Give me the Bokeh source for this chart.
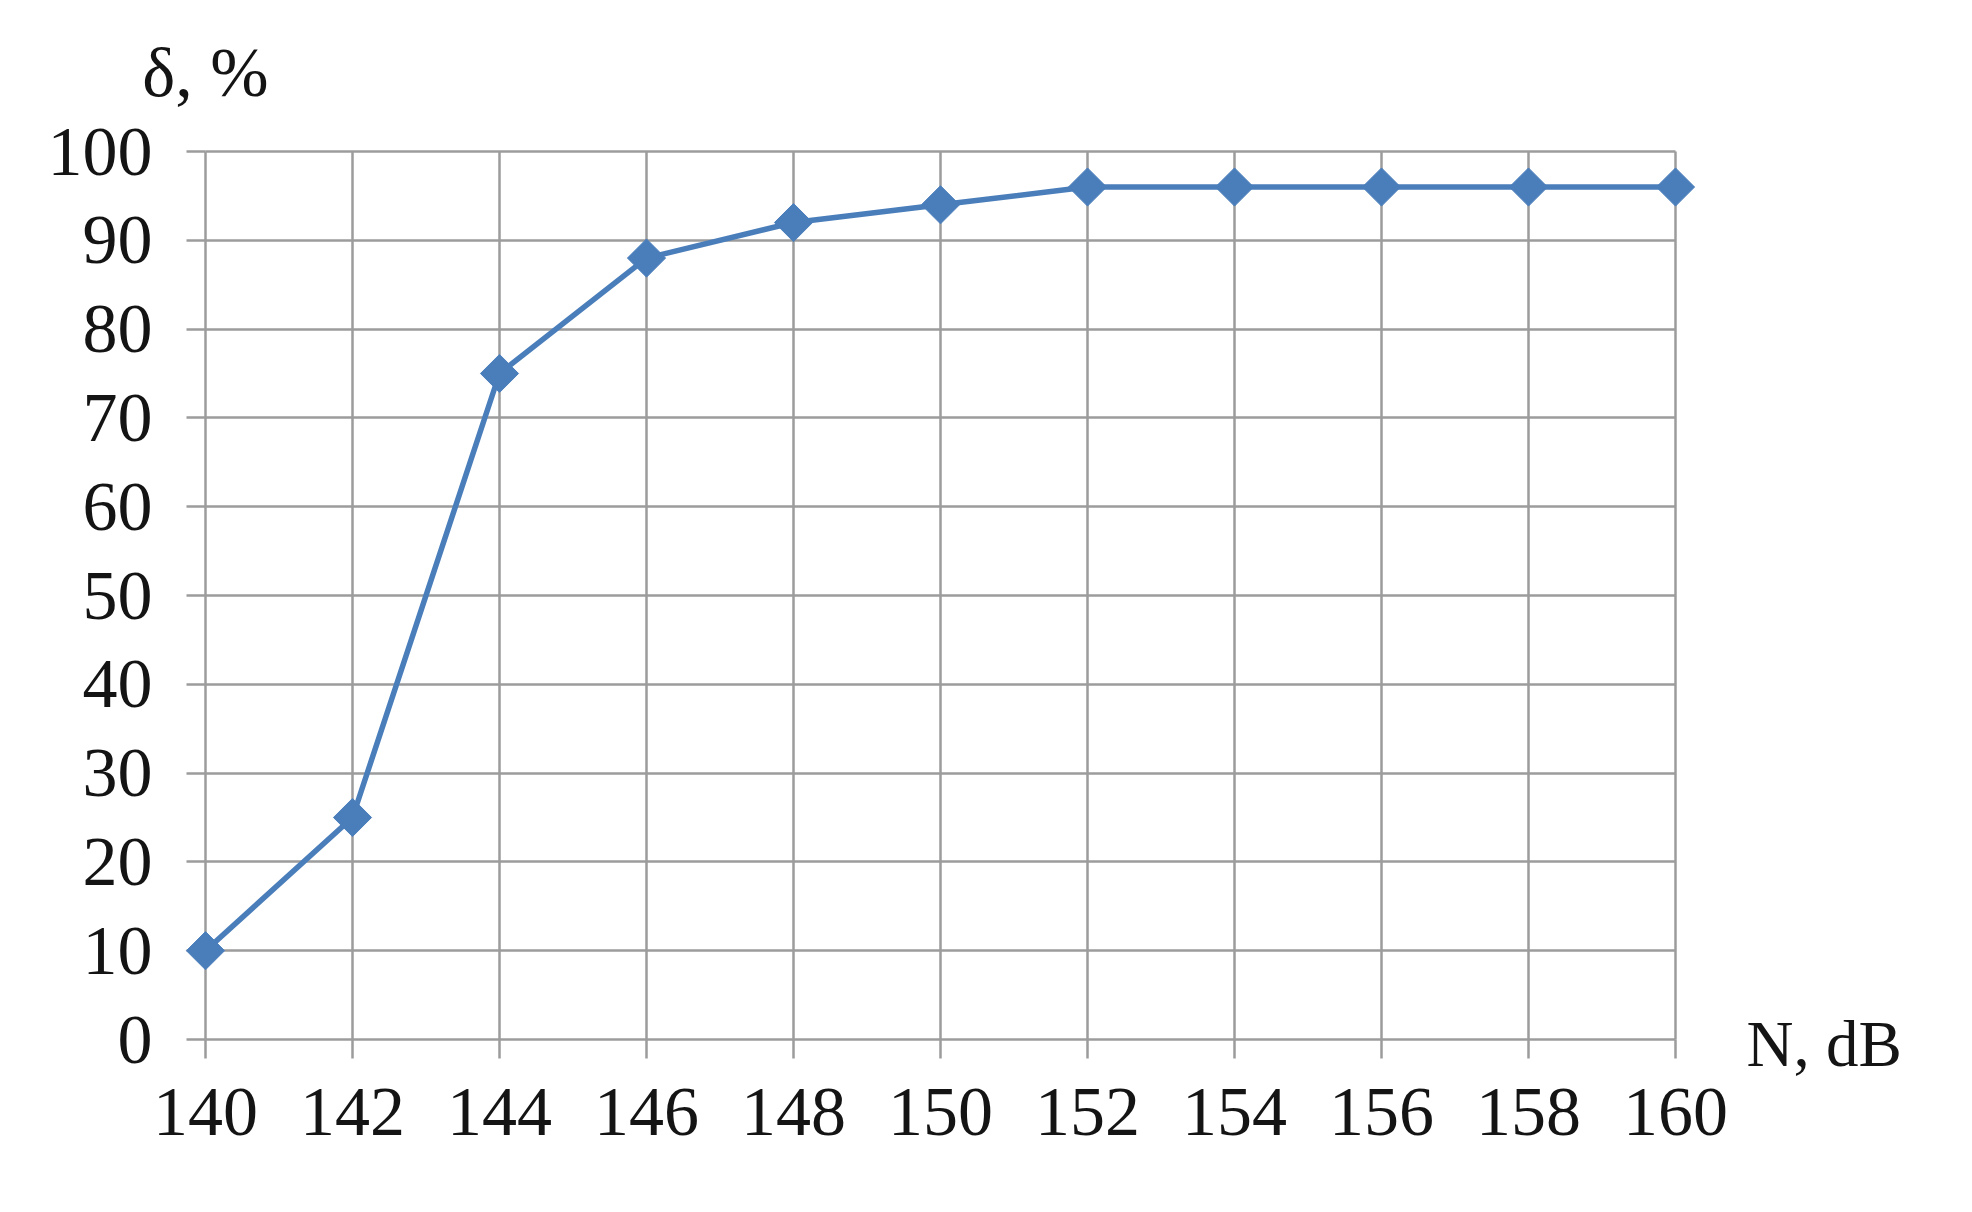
import math
from bokeh.plotting import figure
from bokeh.models import FixedTicker, Range1d, LinearAxis
from bokeh.core.properties import value
from bokeh.embed import file_html
from bokeh.resources import INLINE

# ---- data ----
n_db = [140, 142, 144, 146, 148, 150, 152, 154, 156, 158, 160]
delta_pct = [10, 25, 75, 88, 92, 94, 96, 96, 96, 96, 96]
x_ticks = [140, 142, 144, 146, 148, 150, 152, 154, 156, 158, 160]
y_ticks = [0, 10, 20, 30, 40, 50, 60, 70, 80, 90, 100]
x_title = "N, dB"
y_title = "δ, %"

FONT = "Liberation Serif"
GRID = "#9c9c9c"
BLUE = "#4a7ebb"
TXT = "#141414"
FS = "70px"

p = figure(width=1956, height=1196, output_backend="svg", toolbar_location=None,
           x_range=Range1d(140, 160), y_range=Range1d(0, 100),
           min_border_left=205, min_border_right=281,
           min_border_top=151, min_border_bottom=157)
p.outline_line_color = None
p.background_fill_color = "white"
p.border_fill_color = "white"

for g, t in ((p.xgrid[0], x_ticks), (p.ygrid[0], y_ticks)):
    g.ticker = FixedTicker(ticks=t)
    g.grid_line_color = GRID
    g.grid_line_width = 2.5
    g.level = "guide"

for ax, t in ((p.xaxis[0], x_ticks), (p.yaxis[0], y_ticks)):
    ax.ticker = FixedTicker(ticks=t)
    ax.axis_line_color = GRID
    ax.axis_line_width = 2.5
    ax.major_tick_line_color = GRID
    ax.major_tick_line_width = 2.5
    ax.major_tick_in = 0
    ax.major_tick_out = 19
    ax.minor_tick_line_color = None
    ax.major_label_text_font = FONT
    ax.major_label_text_font_size = FS
    ax.major_label_text_color = TXT
p.xaxis[0].major_label_standoff = 30
p.yaxis[0].major_label_standoff = 34

# closing lines of the plot area (top at 100, right at 160)
for side in ("right", "above"):
    ax = LinearAxis(ticker=FixedTicker(ticks=[]), axis_line_color=GRID, axis_line_width=2.5,
                    major_tick_line_color=None, minor_tick_line_color=None,
                    major_label_text_font_size="0px")
    p.add_layout(ax, side)

p.line(n_db, delta_pct, line_color=BLUE, line_width=5.5, level="overlay")
p.scatter(n_db, delta_pct, marker="square", angle=math.pi / 4, size=27,
          fill_color=BLUE, line_color=BLUE, level="overlay")

p.text(x=[x_ticks[0]], y=[y_ticks[-1]], text=[y_title], y_offset=-79,
       text_font=value(FONT), text_font_size=FS, text_color=TXT,
       text_align="center", text_baseline="alphabetic", level="overlay")
p.text(x=[x_ticks[-1]], y=[y_ticks[0]], text=[x_title], x_offset=71, y_offset=4,
       text_font=value(FONT), text_font_size="65px", text_color=TXT,
       text_align="left", text_baseline="alphabetic", level="overlay")

open("out.html", "w").write(file_html(p, INLINE))
